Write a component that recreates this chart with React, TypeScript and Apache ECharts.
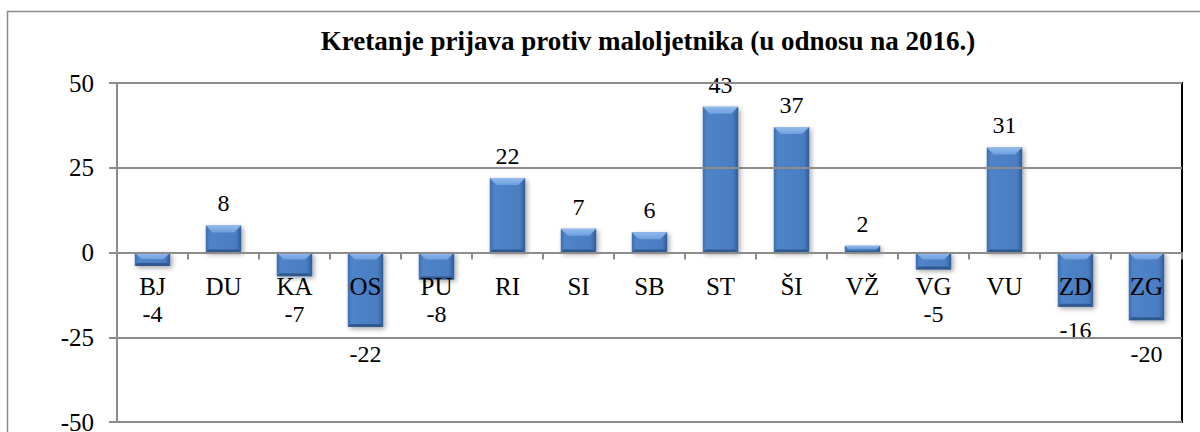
import React, { useEffect, useRef } from "react";
import * as echarts from "echarts";

const categories = ["BJ", "DU", "KA", "OS", "PU", "RI", "SI", "SB", "ST", "ŠI", "VŽ", "VG", "VU", "ZD", "ZG"];
const values = [-4, 8, -7, -22, -8, 22, 7, 6, 43, 37, 2, -5, 31, -16, -20];
const yTicks = [-50, -25, 0, 25, 50];
const titleText = "Kretanje prijava protiv maloljetnika (u odnosu na 2016.)";

const FONT = "Liberation Serif, Times New Roman, serif";

const GRID = { left: 117, top: 83, right: 18, bottom: 10 };

export default function App() {
  const ref = useRef<HTMLDivElement>(null);
  useEffect(() => {
    if (!ref.current) return;
    const chart = echarts.init(ref.current, undefined, { renderer: "svg" });
    const W = 1200;
    const H = 432;

    const bodyColor = new echarts.graphic.LinearGradient(0, 0, 1, 0, [
      { offset: 0, color: "#3d6dae" },
      { offset: 0.12, color: "#4f84c9" },
      { offset: 0.85, color: "#4a7dc1" },
      { offset: 1, color: "#305b95" },
    ]);

    const buildData = (k: number) =>
      values.map((v) => {
        if (v >= 0) {
          return { value: v, label: { position: "top", distance: 10 } };
        }
        const barPx = Math.abs(v) * k;
        let d = Math.max(11, 49 - barPx);
        let center = barPx + d + 12;
        const gridPx = 25 * k;
        if (center > gridPx - 7 && center < gridPx + 15) {
          center = gridPx + 17;
          d = center - barPx - 12;
        }
        return { value: v, label: { position: "bottom", distance: d } };
      });

    const makeOption = (k: number) => ({
      animation: false,
      title: {
        text: titleText,
        left: 643,
        top: 22,
        textAlign: "center",
        textStyle: { fontFamily: FONT, fontSize: 27, fontWeight: "bold", color: "#000" },
      },
      graphic: [
        {
          type: "rect",
          shape: { x: 7.5, y: 11.5, width: 1200, height: 430 },
          style: { fill: "none", stroke: "#8a8a8a", lineWidth: 1.5 },
          silent: true,
          z: -10,
        },
        {
          type: "rect",
          shape: {
            x: GRID.left,
            y: GRID.top,
            width: W - GRID.left - GRID.right,
            height: H - GRID.top - GRID.bottom,
          },
          style: { fill: "none", stroke: "#000", lineWidth: 2 },
          silent: true,
          z: 1,
        },
      ],
      grid: {
        left: GRID.left,
        top: GRID.top,
        right: GRID.right,
        bottom: GRID.bottom,
        outerBoundsMode: "none",
        containLabel: false,
      },
      xAxis: {
        type: "category",
        data: categories,
        z: 10,
        axisLine: { onZero: true, lineStyle: { color: "#8c8c8c", width: 2 } },
        axisTick: { show: true, length: 7, lineStyle: { color: "#8c8c8c", width: 2 } },
        axisLabel: { show: false },
        splitLine: { show: false },
      },
      yAxis: {
        type: "value",
        min: yTicks[0],
        max: yTicks[yTicks.length - 1],
        interval: 25,
        z: 10,
        axisLine: { show: true, lineStyle: { color: "#8c8c8c", width: 2 } },
        axisTick: { show: true, length: 8, lineStyle: { color: "#8c8c8c", width: 2 } },
        axisLabel: { fontFamily: FONT, fontSize: 25, color: "#000", margin: 23 },
        splitLine: { show: true, lineStyle: { color: "#8c8c8c", width: 2 } },
      },
      series: [
        {
          type: "bar",
          data: buildData(k),
          barWidth: "50%",
          z: 2,
          itemStyle: {
            color: bodyColor,
            shadowColor: "rgba(0,0,0,0.35)",
            shadowBlur: 5,
            shadowOffsetX: 2,
            shadowOffsetY: 2,
          },
          label: {
            show: true,
            fontFamily: FONT,
            fontSize: 24,
            color: "#000",
          },
        },
        {
          type: "custom",
          silent: true,
          z: 5,
          data: values.map((v, i) => [i, v]),
          renderItem: (params: any, api: any) => {
            const idx = api.value(0);
            const v = api.value(1);
            const pv = api.coord([idx, v]);
            const p0 = api.coord([idx, 0]);
            const bw = api.size([1, 0])[0] * 0.5;
            const x0 = pv[0] - bw / 2;
            const x1 = pv[0] + bw / 2;
            const top = Math.min(pv[1], p0[1]);
            const bottom = Math.max(pv[1], p0[1]);
            const h = bottom - top;
            const b = Math.min(7, h / 2);
            const bb = Math.min(3, h / 4);
            return {
              type: "group",
              children: [
                {
                  type: "polygon",
                  shape: {
                    points: [
                      [x0, top],
                      [x1, top],
                      [x1 - b, top + b],
                      [x0 + b, top + b],
                    ],
                  },
                  style: {
                    fill: new echarts.graphic.LinearGradient(0, 0, 0, 1, [
                      { offset: 0, color: "#93bcee" },
                      { offset: 1, color: "#6f9edc" },
                    ]),
                  },
                },
                {
                  type: "polygon",
                  shape: {
                    points: [
                      [x0 + bb, bottom - bb],
                      [x1 - bb, bottom - bb],
                      [x1, bottom],
                      [x0, bottom],
                    ],
                  },
                  style: { fill: "#30598f" },
                },
              ],
            };
          },
        },
        {
          type: "custom",
          silent: true,
          z: 20,
          data: categories.map((c, i) => [i, 0]),
          renderItem: (params: any, api: any) => {
            const idx = api.value(0);
            const p0 = api.coord([idx, 0]);
            return {
              type: "text",
              x: p0[0],
              y: p0[1] + 34,
              style: {
                text: categories[idx],
                fontFamily: FONT,
                fontSize: 25,
                fill: "#000",
                align: "center",
                verticalAlign: "middle",
              },
            };
          },
        },
      ],
    });

    chart.setOption(makeOption(3.39));
    const a = chart.convertToPixel({ yAxisIndex: 0 }, 0) as number;
    const b = chart.convertToPixel({ yAxisIndex: 0 }, 1) as number;
    const k = Math.abs(a - b) || 3.39;
    chart.setOption(makeOption(k));

    return () => chart.dispose();
  }, []);

  return (
    <div
      ref={ref}
      style={{ position: "fixed", left: 0, top: 0, width: 1200, height: 432, background: "#fff" }}
    />
  );
}
